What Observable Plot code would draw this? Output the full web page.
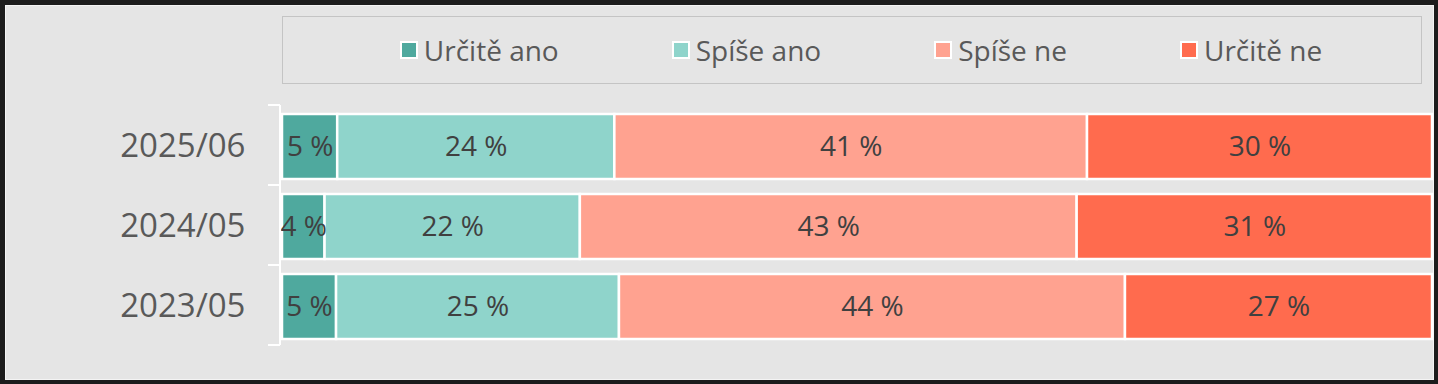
<!DOCTYPE html>
<html>
<head>
<meta charset="utf-8">
<script src="https://cdn.jsdelivr.net/npm/d3@7"></script>
<script src="https://cdn.jsdelivr.net/npm/@observablehq/plot@0.6"></script>
<style>
  html, body { margin: 0; padding: 0; background: #1c1c1c; }
  #frame { position: relative; width: 1438px; height: 384px; background: #1c1c1c; overflow: hidden; font-family: "Open Sans", sans-serif; }
  #inner { position: absolute; left: 5px; top: 5px; width: 1427px; height: 373px; background: #e5e5e5; border: 1px solid #f4f4f4; }
  #legend { position: absolute; left: 282px; top: 16px; width: 1140px; height: 68px; border: 1px solid #c4c4c4; box-sizing: border-box;
            display: flex; align-items: center; justify-content: center; gap: 113px; padding-left: 18px; }
  .item { display: flex; align-items: center; font-size: 28px; color: #595959; white-space: nowrap; }
  .sw { width: 14px; height: 14px; border: 2px solid #ffffff; margin-right: 6px; }
  #chart { position: absolute; left: 0; top: 0; }
</style>
</head>
<body>
<div id="frame">
  <div id="inner"></div>
  <div id="legend"></div>
  <div id="chart"></div>
</div>
<script>
const periods = ["2025/06", "2024/05", "2023/05"];
const categories = ["Určitě ano", "Spíše ano", "Spíše ne", "Určitě ne"];
const colors = ["#4fa99e", "#8fd4cb", "#ffa290", "#ff6b4e"];
// shares (percent), per period in category order
const values2025 = [4.8, 24.1, 41.1, 30.0];
const values2024 = [3.7, 22.2, 43.2, 30.9];
const values2023 = [4.7, 24.6, 44.0, 26.7];
// printed labels
const labels2025 = ["5 %", "24 %", "41 %", "30 %"];
const labels2024 = ["4 %", "22 %", "43 %", "31 %"];
const labels2023 = ["5 %", "25 %", "44 %", "27 %"];

const seriesValues = [values2025, values2024, values2023];
const seriesLabels = [labels2025, labels2024, labels2023];
const data = [];
periods.forEach((p, i) => categories.forEach((c, j) => {
  data.push({period: p, category: c, value: seriesValues[i][j], label: seriesLabels[i][j]});
}));

// legend
const legend = document.getElementById("legend");
categories.forEach((c, j) => {
  const it = document.createElement("div");
  it.className = "item";
  const sw = document.createElement("div");
  sw.className = "sw";
  sw.style.background = colors[j];
  const tx = document.createElement("span");
  tx.textContent = c;
  it.appendChild(sw); it.appendChild(tx);
  legend.appendChild(it);
});

const bracket = (index, scales, values, dimensions) => {
  const ns = "http://www.w3.org/2000/svg";
  const g = document.createElementNS(ns, "g");
  const y = scales.y;
  const x0 = scales.x(0) - 2;
  let bw = y.bandwidth;
  if (typeof bw === "function") bw = bw();
  if (!(bw > 0)) bw = (dimensions.height - dimensions.marginTop - dimensions.marginBottom) / periods.length;
  const bounds = periods.map(p => y(p));
  bounds.push(y(periods[periods.length - 1]) + bw);
  const top = bounds[0], bottom = bounds[bounds.length - 1];
  let d = `M${x0},${top}V${bottom}`;
  bounds.forEach(b => { d += `M${x0 - 12},${b}H${x0}`; });
  const path = document.createElementNS(ns, "path");
  path.setAttribute("d", d);
  path.setAttribute("stroke", "#ffffff");
  path.setAttribute("stroke-width", "2");
  path.setAttribute("fill", "none");
  g.appendChild(path);
  return g;
};

const plot = Plot.plot({
  width: 1438,
  height: 384,
  marginLeft: 282,
  marginRight: 6,
  marginTop: 105,
  marginBottom: 39,
  style: {background: "transparent", fontFamily: "Open Sans, sans-serif", overflow: "visible"},
  x: {domain: [0, 100], axis: null},
  y: {domain: periods, padding: 0, label: null},
  color: {domain: categories, range: colors},
  marks: [
    Plot.barX(data, Plot.stackX({
      x: "value", y: "period", z: "category", fill: "category", order: categories,
      stroke: "#ffffff", strokeWidth: 2.5, insetTop: 9, insetBottom: 6
    })),
    Plot.text(data, Plot.stackX({
      x: "value", y: "period", z: "category", order: categories, text: "label",
      fill: "#404040", fontSize: 28, dy: 2
    })),
    Plot.axisY({tickSize: 0, tickPadding: 37, fontSize: 33, color: "#595959", label: null, dy: 1}),
    bracket
  ]
});
document.getElementById("chart").appendChild(plot);
</script>
</body>
</html>
